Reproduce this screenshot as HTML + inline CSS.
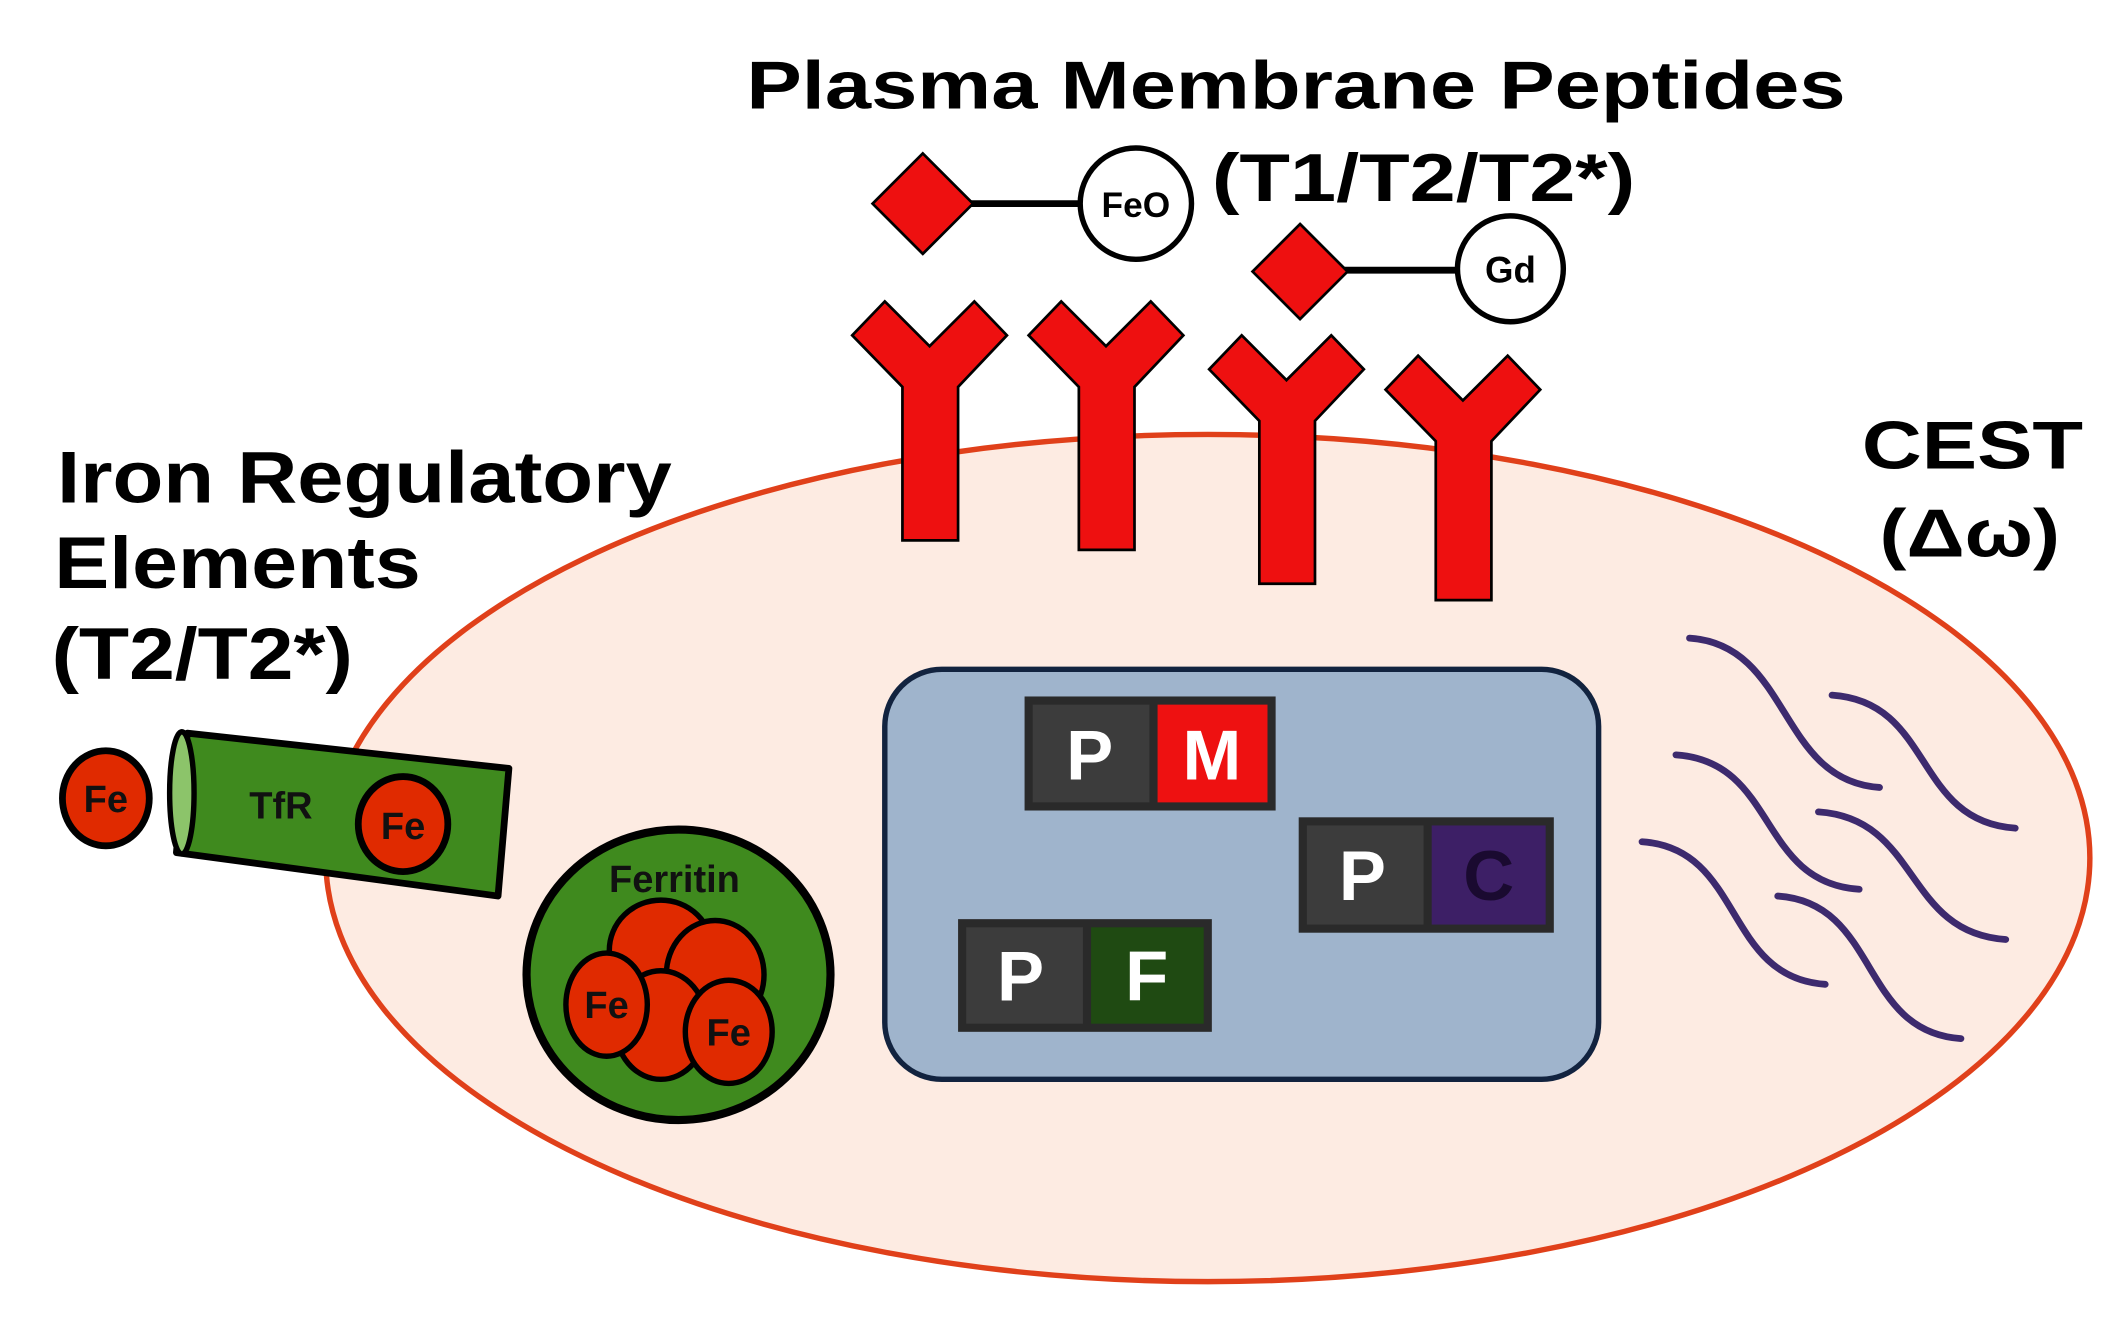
<!DOCTYPE html>
<html><head><meta charset="utf-8"><style>
html,body{margin:0;padding:0;background:#fff;}
svg{display:block}
text{font-family:"Liberation Sans",sans-serif;font-weight:bold;}
</style></head><body>
<svg width="2117" height="1321" viewBox="0 0 1560 973" preserveAspectRatio="none" xmlns="http://www.w3.org/2000/svg">
<rect width="1560" height="973" fill="#fff"/>
<ellipse cx="890" cy="632" rx="650" ry="312" fill="#fdebe2" stroke="#e0401a" stroke-width="4"/>
<text x="550" y="80" font-size="50" textLength="810" lengthAdjust="spacingAndGlyphs">Plasma Membrane Peptides</text>
<text x="893" y="148" font-size="50" textLength="312" lengthAdjust="spacingAndGlyphs">(T1/T2/T2*)</text>
<text x="42" y="370" font-size="54" textLength="453" lengthAdjust="spacingAndGlyphs">Iron Regulatory</text>
<text x="40" y="433" font-size="54" textLength="270" lengthAdjust="spacingAndGlyphs">Elements</text>
<text x="38" y="500" font-size="54" textLength="222" lengthAdjust="spacingAndGlyphs">(T2/T2*)</text>
<text x="1372" y="345" font-size="50" textLength="163" lengthAdjust="spacingAndGlyphs">CEST</text>
<text x="1385" y="410" font-size="50" textLength="133" lengthAdjust="spacingAndGlyphs">(Δω)</text>
<line x1="700" y1="150" x2="800" y2="150" stroke="#000" stroke-width="5"/>
<polygon points="680,113 717,150 680,187 643,150" fill="#ee1010" stroke="#000" stroke-width="2"/>
<circle cx="837" cy="150" r="41" fill="#fff" stroke="#000" stroke-width="4"/>
<text x="837" y="160" font-size="26" text-anchor="middle">FeO</text>
<line x1="980" y1="199" x2="1075" y2="199" stroke="#000" stroke-width="5"/>
<polygon points="958,165 993,200 958,235 923,200" fill="#ee1010" stroke="#000" stroke-width="2"/>
<circle cx="1113" cy="198" r="39" fill="#fff" stroke="#000" stroke-width="4"/>
<text x="1113" y="208" font-size="27" text-anchor="middle">Gd</text>
<g fill="#ee1010" stroke="#000" stroke-width="2">
<polygon points="628,247 652,222 685,255 718,222 742,247 706,285 706,398 665,398 665,285"/>
<polygon points="758,247 782,222 815,255 848,222 872,247 836,285 836,405 795,405 795,285"/>
<polygon points="891,272 915,247 948,280 981,247 1005,272 969,310 969,430 928,430 928,310"/>
<polygon points="1021,287 1045,262 1078,295 1111,262 1135,287 1099,325 1099,442 1058,442 1058,325"/>
</g>
<rect x="652" y="493" width="526" height="302" rx="42" fill="#9fb4cc" stroke="#12233f" stroke-width="4"/>
<g font-size="52" fill="#fff">
<rect x="755" y="513" width="185" height="84" fill="#2a2a2a"/>
<rect x="761" y="519" width="86" height="72" fill="#3c3c3c"/>
<rect x="853" y="519" width="81" height="72" fill="#ee1111"/>
<text x="803" y="574" text-anchor="middle">P</text>
<text x="893" y="574" text-anchor="middle">M</text>
<rect x="957" y="602" width="188" height="85" fill="#2a2a2a"/>
<rect x="963" y="608" width="86" height="73" fill="#3c3c3c"/>
<rect x="1055" y="608" width="84" height="73" fill="#3d1f66"/>
<text x="1004" y="663" text-anchor="middle">P</text>
<text x="1097" y="663" text-anchor="middle" fill="#1a0a30">C</text>
<rect x="706" y="677" width="187" height="83" fill="#2a2a2a"/>
<rect x="712" y="683" width="86" height="71" fill="#3c3c3c"/>
<rect x="804" y="683" width="83" height="71" fill="#1f4a12"/>
<text x="752" y="737" text-anchor="middle">P</text>
<text x="845" y="737" text-anchor="middle">F</text>
</g>
<g fill="none" stroke="#3d2a6e" stroke-width="5" stroke-linecap="round">
<path d="M1245,470 C1320,475 1310,575 1385,580"/>
<path d="M1350,512 C1425,517 1410,605 1485,610"/>
<path d="M1235,556 C1310,561 1295,650 1370,655"/>
<path d="M1340,598 C1415,603 1403,687 1478,692"/>
<path d="M1210,620 C1285,625 1270,720 1345,725"/>
<path d="M1310,660 C1385,665 1370,760 1445,765"/>
</g>
<ellipse cx="78" cy="588" rx="32" ry="35" fill="#e02a00" stroke="#000" stroke-width="5"/>
<text x="78" y="598" font-size="28" text-anchor="middle" fill="#111">Fe</text>
<polygon points="138,540 375,566 367,660 130,628" fill="#3f8a1e" stroke="#000" stroke-width="5" stroke-linejoin="round"/>
<ellipse cx="134" cy="584" rx="9" ry="45" fill="#8cc46a" stroke="#000" stroke-width="4"/>
<text x="207" y="603" font-size="28" text-anchor="middle" fill="#111">TfR</text>
<ellipse cx="297" cy="607" rx="33" ry="35" fill="#e02a00" stroke="#000" stroke-width="5"/>
<text x="297" y="618" font-size="28" text-anchor="middle" fill="#111">Fe</text>
<ellipse cx="500" cy="718" rx="112" ry="107" fill="#3f8a1e" stroke="#000" stroke-width="6"/>
<text x="497" y="657" font-size="28" text-anchor="middle" fill="#111">Ferritin</text>
<g fill="#e02a00" stroke="#000" stroke-width="4">
<ellipse cx="487" cy="700" rx="38" ry="37"/>
<ellipse cx="527" cy="718" rx="36" ry="40"/>
<ellipse cx="487" cy="755" rx="34" ry="40"/>
<ellipse cx="447" cy="740" rx="30" ry="38"/>
<ellipse cx="537" cy="760" rx="32" ry="38"/>
</g>
<text x="447" y="750" font-size="28" text-anchor="middle" fill="#111">Fe</text>
<text x="537" y="770" font-size="28" text-anchor="middle" fill="#111">Fe</text>
</svg>
</body></html>
